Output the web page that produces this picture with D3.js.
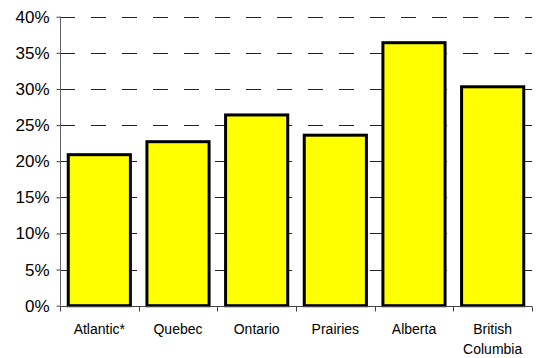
<!DOCTYPE html>
<html>
<head>
<meta charset="utf-8">
<script src="https://cdn.jsdelivr.net/npm/d3@7"></script>
<style>
  html, body { margin: 0; padding: 0; background: #fff; }
  svg { display: block; font-family: "Liberation Sans", Arial, sans-serif; }
</style>
</head>
<body>
<svg id="chart" width="543" height="358"></svg>
<script>
// Share by region
const regions = ["Atlantic*", "Quebec", "Ontario", "Prairies", "Alberta", "British Columbia"];
const shares = [0.209, 0.227, 0.264, 0.236, 0.364, 0.303];
const yTicks = [0, 0.05, 0.10, 0.15, 0.20, 0.25, 0.30, 0.35, 0.40];

const svg = d3.select("#chart");
const margin = { left: 60, right: 11, top: 16.7, bottom: 52.3 };
const W = 543, H = 358;

const x = d3.scaleBand()
  .domain(regions)
  .range([margin.left, W - margin.right])
  .paddingInner(0.21)
  .paddingOuter(0.105);

const y = d3.scaleLinear()
  .domain([0, 0.40])
  .range([H - margin.bottom, margin.top]);

// dashed gridlines
svg.append("g")
  .selectAll("line")
  .data(yTicks.filter(d => d > 0))
  .join("line")
  .attr("x1", margin.left)
  .attr("x2", W - margin.right)
  .attr("y1", d => Math.round(y(d)) + 0.5)
  .attr("y2", d => Math.round(y(d)) + 0.5)
  .attr("stroke", "#222")
  .attr("stroke-width", 1)
  .attr("stroke-dasharray", "15,16");

// bars
svg.append("g")
  .selectAll("rect")
  .data(regions)
  .join("rect")
  .attr("x", d => x(d))
  .attr("y", (d, i) => y(shares[i]))
  .attr("width", x.bandwidth())
  .attr("height", (d, i) => y(0) - y(shares[i]))
  .attr("fill", "#ffff00")
  .attr("stroke", "#000")
  .attr("stroke-width", 3);

// y axis
const yAxis = d3.axisLeft(y)
  .tickValues(yTicks)
  .tickFormat(d3.format(".0%"))
  .tickSize(4)
  .tickPadding(7);
const gy = svg.append("g")
  .attr("transform", `translate(${margin.left + 0.5},0)`)
  .call(yAxis);
gy.select(".domain").attr("stroke", "#666").attr("d", `M0,${y(0.40)}V${y(0)}`);
gy.selectAll(".tick line").attr("stroke", "#444");
gy.selectAll(".tick text").attr("font-size", 17).attr("fill", "#000")
  .attr("font-family", "'Liberation Sans', Arial, sans-serif");

// x axis with ticks at category boundaries
const gx = svg.append("g")
  .attr("transform", `translate(0,${Math.round(y(0)) + 0.5})`);
gx.append("line")
  .attr("x1", margin.left)
  .attr("x2", W - margin.right)
  .attr("stroke", "#444");
const step = x.step();
const boundaries = d3.range(regions.length + 1).map(i => x(regions[0]) - x.paddingOuter() * step + i * step);
gx.selectAll(".bt")
  .data(boundaries)
  .join("line")
  .attr("class", "bt")
  .attr("x1", d => Math.round(d) + 0.5)
  .attr("x2", d => Math.round(d) + 0.5)
  .attr("y1", 0)
  .attr("y2", 5)
  .attr("stroke", "#444");

const labels = gx.selectAll(".lbl")
  .data(regions)
  .join("text")
  .attr("class", "lbl")
  .attr("text-anchor", "middle")
  .attr("font-size", 14)
  .attr("fill", "#000")
  .attr("x", d => x(d) + x.bandwidth() / 2)
  .attr("y", 27);
labels.each(function(d) {
  const words = d === "British Columbia" ? ["British", "Columbia"] : [d];
  const t = d3.select(this);
  words.forEach((w, i) => {
    t.append("tspan")
      .attr("x", x(d) + x.bandwidth() / 2)
      .attr("dy", i === 0 ? 0 : 20)
      .text(w);
  });
});
</script>
</body>
</html>
